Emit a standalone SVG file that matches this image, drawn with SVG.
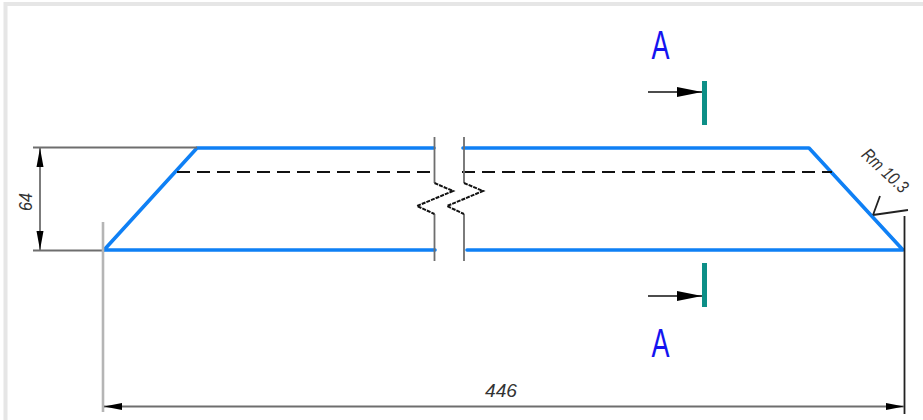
<svg xmlns="http://www.w3.org/2000/svg" width="923" height="420" viewBox="0 0 923 420">
<style>
.f{fill:#fff;stroke:none}
.b{fill:none;stroke:#0f80f5;stroke-width:3.6;stroke-linecap:round;stroke-linejoin:round}
.g{fill:none;stroke:#6e6e6e;stroke-width:1.8}
.z{fill:none;stroke:#111;stroke-width:2;stroke-dasharray:4 1}
.lg{fill:none;stroke:#b5b5b5;stroke-width:2.6}
.k{fill:none;stroke:#222;stroke-width:1.8}
.d{fill:none;stroke:#111;stroke-width:2;stroke-dasharray:13 7}
.a{fill:none;stroke:#111;stroke-width:1.6}
.h{fill:#000;stroke:none}
.t{fill:#0d8f87;stroke:none}
.A{font-family:"Liberation Sans",Arial,sans-serif;font-size:41px;fill:#1414f0;text-anchor:middle}
.n{font-family:"Liberation Sans",Arial,sans-serif;font-size:18px;font-style:italic;fill:#333;text-anchor:middle}
</style>
<rect class="f" width="923" height="420"/>
<path d="M5.500 420V4H923" fill="none" stroke="#e6e6e6" stroke-width="4"/>
<g id="part">
<path class="b" d="M104 250L197 148H434M463 148H809L903 250H467M435 250H104"/>
<path class="d" d="M177 172H435M462 172H832"/>
</g>
<g id="break-lines">
<path class="g" d="M434.500 137V183M434.500 214V261"/>
<path class="z" d="M434.500 183L453 191L417 206L434.500 214"/>
<path class="g" d="M464 137V183M464 214V261"/>
<path class="z" d="M464 183L483 191L447 206L464 214"/>
</g>
<g id="connectors">
<path class="g" d="M33 147.500H197M33 250.500H104"/>
<path class="g" d="M40 148V250"/>
<path class="h" d="M40 148L36.500 167H43.500ZM40 250L36.500 231H43.500Z"/>
<path class="lg" d="M103 222V412"/>
<path class="k" d="M904.500 216V414"/>
<path class="g" d="M104 406.500H904"/>
<path class="h" d="M104 406.500L122 403V410ZM904 406.500L886 403V410Z"/>
<path class="k" d="M873 215L880 196M873 215L908 210"/>
</g>
<g id="section-top">
<path class="a" d="M648 92H704"/>
<path class="h" d="M702 92L677 87V97Z"/>
<rect class="t" x="702" y="81" width="5" height="44"/>
<text class="A" x="660.500" y="59" textLength="18" lengthAdjust="spacingAndGlyphs">A</text>
</g>
<g id="section-bottom">
<path class="a" d="M648 296H704"/>
<path class="h" d="M702 296L677 291V301Z"/>
<rect class="t" x="702" y="263" width="5" height="44"/>
<text class="A" x="660.500" y="357" textLength="18" lengthAdjust="spacingAndGlyphs">A</text>
</g>
<g id="dim-labels">
<text class="n" transform="translate(32 202) rotate(-90)" textLength="18" lengthAdjust="spacingAndGlyphs">64</text>
<text class="n" x="501" y="397" textLength="32" lengthAdjust="spacingAndGlyphs">446</text>
<text class="n" transform="translate(881 175) rotate(43)" textLength="56" lengthAdjust="spacingAndGlyphs">Rm 10.3</text>
</g>
</svg>
